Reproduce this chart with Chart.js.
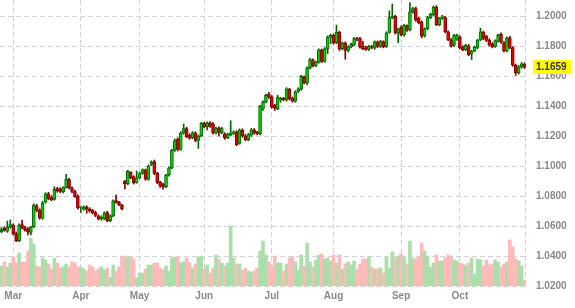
<!DOCTYPE html>
<html lang="en">
<head>
<meta charset="UTF-8">
<title>EUR/USD daily</title>
<script src="https://cdn.jsdelivr.net/npm/chart.js@4"></script>
<style>
  html, body { margin: 0; padding: 0; background: #fff; }
</style>
</head>
<body>
<canvas id="chart" width="575" height="308"></canvas>
<script>
  // daily candles, late Feb -> end of Oct
  const opens = [
    1.0562,1.0585,1.0565,1.0592,1.0605,1.0548,1.0502,1.0610,1.0590,1.0578,
    1.0558,1.0595,1.0735,1.0705,1.0652,1.0760,1.0815,1.0790,1.0778,1.0850,
    1.0848,1.0828,1.0858,1.0910,1.0855,1.0830,1.0800,1.0722,1.0712,1.0728,
    1.0714,1.0705,1.0690,1.0668,1.0648,1.0648,1.0690,1.0635,1.0668,1.0770,
    1.0758,1.0740,1.0900,1.0882,1.0958,1.0930,1.0890,1.0922,1.0950,1.0975,
    1.0910,1.1010,1.1030,1.0952,1.0892,1.0878,1.0862,1.0940,1.0988,1.1105,
    1.1178,1.1110,1.1220,1.1250,1.1205,1.1188,1.1222,1.1170,1.1200,1.1285,
    1.1262,1.1288,1.1280,1.1220,1.1255,1.1222,1.1215,1.1188,1.1205,1.1218,
    1.1228,1.1150,1.1240,1.1202,1.1175,1.1205,1.1242,1.1225,1.1215,1.1380,
    1.1428,1.1478,1.1462,1.1405,1.1382,1.1440,1.1452,1.1440,1.1512,1.1452,
    1.1432,1.1498,1.1512,1.1595,1.1555,1.1655,1.1708,1.1670,1.1690,1.1775,
    1.1698,1.1780,1.1858,1.1872,1.1822,1.1892,1.1782,1.1820,1.1770,1.1795,
    1.1810,1.1850,1.1850,1.1800,1.1785,1.1778,1.1795,1.1785,1.1828,1.1798,
    1.1830,1.1798,1.1890,1.1990,1.1998,1.1888,1.1925,1.1872,1.1935,1.1908,
    1.2030,1.2050,1.1985,1.1960,1.1868,1.1915,1.1990,1.2010,1.2058,1.1942,
    1.1985,1.1990,1.1895,1.1842,1.1805,1.1845,1.1860,1.1795,1.1775,1.1802,
    1.1748,1.1768,1.1790,1.1840,1.1892,1.1865,1.1840,1.1815,1.1798,1.1832,
    1.1878,1.1822,1.1768,1.1855,1.1790,1.1672,1.1620,1.1660,1.1680
  ];
  const highs = [
    1.0590,1.0595,1.0633,1.0640,1.0615,1.0560,1.0615,1.0640,1.0600,1.0590,
    1.0600,1.0748,1.0745,1.0715,1.0765,1.0822,1.0825,1.0802,1.0862,1.0858,
    1.0855,1.0862,1.0945,1.0918,1.0862,1.0838,1.0808,1.0732,1.0735,1.0735,
    1.0722,1.0712,1.0698,1.0675,1.0668,1.0695,1.0698,1.0675,1.0775,1.0807,
    1.0765,1.0745,1.0905,1.0972,1.0962,1.0935,1.0967,1.0958,1.0982,1.0980,
    1.1008,1.1035,1.1040,1.0958,1.0898,1.0885,1.0945,1.0995,1.1112,1.1180,
    1.1188,1.1228,1.1280,1.1258,1.1215,1.1230,1.1228,1.1208,1.1292,1.1292,
    1.1295,1.1296,1.1290,1.1260,1.1262,1.1258,1.1222,1.1220,1.1302,1.1235,
    1.1235,1.1248,1.1248,1.1210,1.1218,1.1250,1.1250,1.1232,1.1405,1.1435,
    1.1480,1.1492,1.1470,1.1412,1.1472,1.1458,1.1458,1.1522,1.1518,1.1460,
    1.1502,1.1522,1.1605,1.1602,1.1662,1.1718,1.1715,1.1700,1.1782,1.1780,
    1.1790,1.1868,1.1880,1.1880,1.1940,1.1900,1.1828,1.1828,1.1802,1.1820,
    1.1858,1.1858,1.1858,1.1832,1.1800,1.1805,1.1805,1.1835,1.1835,1.1838,
    1.1835,1.1895,1.2035,1.2080,1.2005,1.1918,1.1935,1.1945,1.1942,1.2089,
    1.2058,1.2060,1.1992,1.1968,1.1922,1.1998,1.2020,1.2068,1.2070,1.1992,
    1.2005,1.1998,1.1902,1.1850,1.1878,1.1880,1.1868,1.1802,1.1812,1.1810,
    1.1772,1.1800,1.1845,1.1918,1.1900,1.1872,1.1848,1.1822,1.1842,1.1880,
    1.1888,1.1830,1.1862,1.1865,1.1795,1.1680,1.1670,1.1690,1.1688
  ];
  const lows = [
    1.0555,1.0565,1.0558,1.0585,1.0540,1.0495,1.0495,1.0580,1.0565,1.0540,
    1.0540,1.0590,1.0695,1.0645,1.0645,1.0752,1.0775,1.0768,1.0772,1.0825,
    1.0822,1.0820,1.0852,1.0848,1.0822,1.0790,1.0712,1.0690,1.0705,1.0685,
    1.0692,1.0680,1.0662,1.0640,1.0638,1.0642,1.0628,1.0628,1.0662,1.0752,
    1.0735,1.0708,1.0847,1.0875,1.0915,1.0880,1.0885,1.0915,1.0945,1.0905,
    1.0905,1.1002,1.0942,1.0882,1.0858,1.0845,1.0855,1.0932,1.0982,1.1098,
    1.1100,1.1105,1.1212,1.1188,1.1178,1.1182,1.1162,1.1118,1.1195,1.1255,
    1.1240,1.1258,1.1212,1.1212,1.1200,1.1215,1.1178,1.1182,1.1200,1.1210,
    1.1135,1.1145,1.1192,1.1168,1.1168,1.1198,1.1212,1.1208,1.1208,1.1370,
    1.1420,1.1450,1.1385,1.1370,1.1375,1.1425,1.1435,1.1432,1.1440,1.1425,
    1.1425,1.1490,1.1505,1.1548,1.1540,1.1648,1.1660,1.1662,1.1685,1.1690,
    1.1692,1.1750,1.1815,1.1812,1.1815,1.1770,1.1775,1.1712,1.1760,1.1788,
    1.1802,1.1835,1.1785,1.1775,1.1770,1.1770,1.1782,1.1778,1.1790,1.1790,
    1.1788,1.1790,1.1885,1.1982,1.1880,1.1822,1.1868,1.1865,1.1898,1.1900,
    1.2020,1.1965,1.1948,1.1855,1.1860,1.1908,1.1982,1.2002,1.1935,1.1935,
    1.1978,1.1888,1.1835,1.1792,1.1795,1.1838,1.1780,1.1768,1.1768,1.1735,
    1.1710,1.1762,1.1782,1.1835,1.1842,1.1830,1.1800,1.1788,1.1790,1.1825,
    1.1818,1.1760,1.1760,1.1782,1.1665,1.1605,1.1612,1.1652,1.1650
  ];
  const closes = [
    1.0580,1.0571,1.0595,1.0609,1.0548,1.0502,1.0605,1.0589,1.0575,1.0560,
    1.0593,1.0740,1.0705,1.0652,1.0755,1.0815,1.0782,1.0775,1.0845,1.0833,
    1.0830,1.0856,1.0912,1.0855,1.0830,1.0798,1.0720,1.0726,1.0728,1.0712,
    1.0700,1.0688,1.0670,1.0648,1.0660,1.0688,1.0635,1.0668,1.0768,1.0758,
    1.0742,1.0715,1.0882,1.0965,1.0922,1.0888,1.0920,1.0950,1.0975,1.0913,
    1.1000,1.1025,1.0950,1.0890,1.0868,1.0862,1.0938,1.0988,1.1105,1.1170,
    1.1110,1.1220,1.1250,1.1196,1.1186,1.1222,1.1170,1.1200,1.1285,1.1262,
    1.1288,1.1265,1.1220,1.1252,1.1225,1.1250,1.1186,1.1212,1.1220,1.1228,
    1.1142,1.1240,1.1200,1.1175,1.1210,1.1242,1.1220,1.1215,1.1398,1.1428,
    1.1472,1.1460,1.1392,1.1385,1.1460,1.1452,1.1442,1.1515,1.1448,1.1432,
    1.1495,1.1515,1.1598,1.1555,1.1655,1.1710,1.1668,1.1692,1.1775,1.1698,
    1.1782,1.1860,1.1872,1.1820,1.1892,1.1780,1.1820,1.1770,1.1795,1.1812,
    1.1850,1.1845,1.1792,1.1782,1.1778,1.1798,1.1790,1.1828,1.1798,1.1830,
    1.1795,1.1888,1.1990,1.2000,1.1888,1.1910,1.1875,1.1938,1.1905,1.2028,
    1.2050,1.1972,1.1955,1.1865,1.1915,1.1990,1.2012,1.2058,1.1942,1.1985,
    1.1995,1.1895,1.1842,1.1800,1.1870,1.1872,1.1788,1.1775,1.1805,1.1742,
    1.1765,1.1792,1.1838,1.1895,1.1850,1.1838,1.1808,1.1795,1.1835,1.1872,
    1.1825,1.1765,1.1855,1.1790,1.1672,1.1620,1.1662,1.1682,1.1659
  ];
  const volumes = [
    20,24,19,23,29,23,33,24,24,35, 48,42,20,19,28,26,22,17,28,23,
    18,19,22,19,24,23,19,19,17,15, 21,19,15,17,19,16,18,9,21,15,
    19,29,30,29,29,27,8,13,13,17, 21,21,23,23,18,16,20,15,28,29,
    29,23,24,28,23,18,22,29,30,17, 21,13,18,31,27,23,20,23,60,28,
    22,22,16,18,15,14,15,18,35,45, 31,24,20,30,23,23,15,22,28,29,
    24,16,31,20,43,24,19,26,31,32, 27,28,25,31,23,31,17,22,24,21,
    25,17,22,27,27,29,19,17,17,18, 13,29,18,34,28,30,32,29,22,45,
    28,27,29,43,35,29,19,23,31,25, 25,28,31,30,26,25,23,22,21,23,
    28,12,27,26,20,26,21,22,26,24, 19,22,24,46,39,27,25,20,6
  ];

  const monthNames = ['Mar', 'Apr', 'May', 'Jun', 'Jul', 'Aug', 'Sep', 'Oct'];
  const monthStarts = [4, 27, 47, 69, 92, 113, 136, 156];
  const priceTicks = [1.02, 1.04, 1.06, 1.08, 1.10, 1.12, 1.14, 1.16, 1.18, 1.20];
  const priceMin = 1.02;
  const priceMax = 1.2107;
  const volumeMax = 286;

  const labels = closes.map((_, i) => i);
  const isUp = i => closes[i] >= opens[i];
  const gridColor = '#d2d2d2';
  const tickFont = { family: '"Liberation Sans", Arial, sans-serif', size: 10, weight: 'bold' };

  // dashed right edge + yellow tag with the last close
  const lastPriceTag = {
    id: 'lastPriceTag',
    beforeDatasetsDraw(chart) {
      const { ctx, chartArea } = chart;
      const xr = Math.round(chartArea.right) - 0.5;
      ctx.save();
      ctx.strokeStyle = gridColor;
      ctx.lineWidth = 1;
      ctx.setLineDash([5, 3]);
      ctx.beginPath();
      ctx.moveTo(xr, chartArea.top);
      ctx.lineTo(xr, chartArea.bottom);
      ctx.stroke();
      ctx.restore();
    },
    afterDraw(chart) {
      const { ctx, chartArea, scales } = chart;
      const last = closes[closes.length - 1];
      const y = Math.round(scales.y.getPixelForValue(last));
      const x = Math.round(chartArea.right) + 7;
      ctx.save();
      ctx.fillStyle = '#ffff00';
      ctx.fillRect(x, y - 7, 38, 14);
      ctx.fillStyle = '#333333';
      ctx.font = 'bold 10px "Liberation Sans", Arial, sans-serif';
      ctx.textBaseline = 'middle';
      ctx.fillText(last.toFixed(4), x + 3, y + 0.5);
      ctx.restore();
    }
  };

  const ctx = document.getElementById('chart').getContext('2d');
  new Chart(ctx, {
    type: 'bar',
    data: {
      labels: labels,
      datasets: [
        {
          label: 'Body',
          data: opens.map((o, i) => [o, closes[i]]),
          yAxisID: 'y',
          grouped: false,
          barThickness: 3,
          borderWidth: 1,
          borderSkipped: false,
          backgroundColor: c => isUp(c.dataIndex) ? '#00d200' : '#e00000',
          borderColor: c => isUp(c.dataIndex) ? '#006400' : '#800000'
        },
        {
          label: 'Wick',
          data: lows.map((l, i) => [l, highs[i]]),
          yAxisID: 'y',
          grouped: false,
          barThickness: 1,
          borderWidth: 0,
          backgroundColor: c => isUp(c.dataIndex) ? '#006400' : '#800000'
        },
        {
          label: 'Volume',
          data: volumes,
          yAxisID: 'yv',
          grouped: false,
          barPercentage: 1,
          categoryPercentage: 1,
          borderWidth: 0,
          backgroundColor: c => isUp(c.dataIndex) ? '#aadeaa' : '#ffbaba'
        }
      ]
    },
    options: {
      responsive: false,
      animation: false,
      layout: { padding: 0 },
      plugins: {
        legend: { display: false },
        tooltip: { enabled: false }
      },
      scales: {
        x: {
          offset: true,
          grid: {
            offset: false,
            drawTicks: false,
            color: c => monthStarts.includes(c.index) ? gridColor : 'rgba(0,0,0,0)'
          },
          border: { display: false, dash: [5, 3] },
          ticks: {
            autoSkip: false,
            maxRotation: 0,
            minRotation: 0,
            padding: 4,
            color: '#888888',
            font: tickFont,
            callback: (v, i) => {
              const m = monthStarts.indexOf(i);
              return m >= 0 ? monthNames[m] : '';
            }
          },
          afterFit: s => { s.height = 22; s.paddingLeft = 0; s.paddingRight = 0; }
        },
        y: {
          position: 'right',
          min: priceMin,
          max: priceMax,
          grid: { drawTicks: false, color: gridColor },
          border: { display: false, dash: [5, 3] },
          ticks: {
            padding: 10,
            color: '#888888',
            font: tickFont,
            callback: v => v.toFixed(4)
          },
          afterBuildTicks: s => { s.ticks = priceTicks.map(v => ({ value: v })); },
          afterFit: s => { s.width = 49; s.paddingTop = 0; s.paddingBottom = 0; }
        },
        yv: {
          display: false,
          min: 0,
          max: volumeMax
        }
      }
    },
    plugins: [lastPriceTag]
  });
</script>
</body>
</html>
